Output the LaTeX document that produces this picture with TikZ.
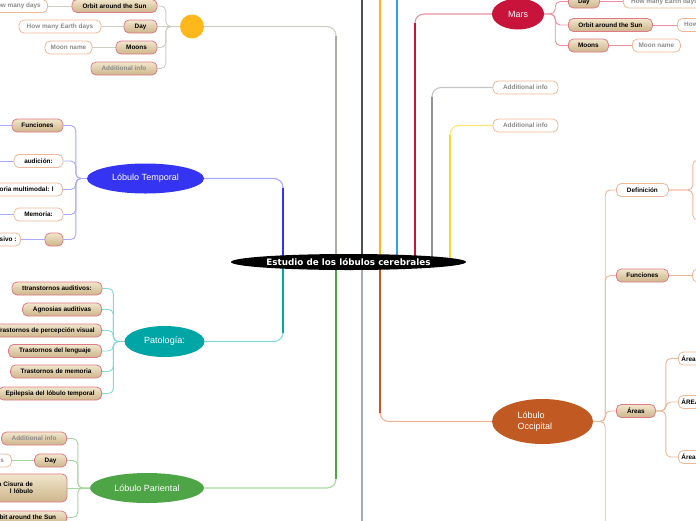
\documentclass[tikz,border=0pt]{standalone}
\usepackage{fontspec}
\setmainfont{Liberation Sans}
\newfontfamily\rootfont{DejaVu Sans}
\usetikzlibrary{calc,shapes.geometric}

\definecolor{tanTop}{HTML}{F1E6CC}
\definecolor{tanBot}{HTML}{CDB58A}
\definecolor{tanEdge}{HTML}{E07A88}
\definecolor{noteEdge}{HTML}{EDB898}
\definecolor{greyText}{HTML}{8C8C8C}
\definecolor{sunFill}{HTML}{FFB81C}
\definecolor{sunTrunk}{HTML}{A9AE9F}
\definecolor{sunSoft}{HTML}{CCCEC4}
\definecolor{tmp}{HTML}{3434F2}
\definecolor{tmpSoft}{HTML}{A8A8FF}
\definecolor{pat}{HTML}{00A6A6}
\definecolor{patSoft}{HTML}{88D8D8}
\definecolor{par}{HTML}{4DA546}
\definecolor{parSoft}{HTML}{A8D8A2}
\definecolor{mars}{HTML}{C8133A}
\definecolor{marsSoft}{HTML}{E8909E}
\definecolor{occ}{HTML}{C05A22}
\definecolor{occSoft}{HTML}{EDB598}
\definecolor{darkTrunk}{HTML}{4B5052}
\definecolor{darkLow}{HTML}{A4ACB5}
\definecolor{orTrunk}{HTML}{FFB31A}
\definecolor{blTrunk}{HTML}{2CA2EE}
\definecolor{grTrunk}{HTML}{909498}
\definecolor{grSoft}{HTML}{C4C4C4}
\definecolor{yeTrunk}{HTML}{FFD62A}
\definecolor{yeSoft}{HTML}{FFE678}

\pgfdeclarelayer{back}
\pgfsetlayers{back,main}

\tikzset{
  box/.style={line width=0.8pt, rounded corners=5pt, minimum height=13pt,
    inner xsep=2pt, inner ysep=0pt, font=\fontsize{6.4}{7.4}\selectfont\bfseries},
  tanbox/.style={box, draw=tanEdge, top color=tanTop, bottom color=tanBot},
  notebox/.style={box, draw=noteEdge, fill=white},
  greytxt/.style={text=greyText},
  lobe/.style={ellipse, inner sep=0pt, text=white, font=\fontsize{9}{11}\selectfont},
  rootnode/.style={ellipse, fill=black, text=white, inner sep=0pt,
    minimum width=235pt, minimum height=16pt,
    font=\rootfont\bfseries\fontsize{8.8}{10}\selectfont},
  trunk/.style={line width=1.8pt, draw=#1},
  twig/.style={line width=0.9pt, draw=#1, rounded corners=5pt},
}

\begin{document}
\begin{tikzpicture}[x=1pt,y=-1pt,line cap=round]
  \useasboundingbox (0,0) rectangle (696,520);

  % --- centro ---
  \node[rootnode] (root) at (348.5,262) {Estudio de los lóbulos cerebrales};
  \coordinate (jTmp) at (283,262);
  \coordinate (jSun) at (336,262);
  \coordinate (jDark) at (362,262);
  \coordinate (jOr) at (380,262);
  \coordinate (jBl) at (397,262);
  \coordinate (jMars) at (415,262);
  \coordinate (jInfoA) at (432,262);
  \coordinate (jInfoB) at (450,262);
  \coordinate (darkTop) at (362,-3);
  \coordinate (darkBot) at (362,523);
  \coordinate (orTop) at (380,-3);
  \coordinate (blTop) at (397,-3);

  % --- circulo amarillo ---
  \node[circle, fill=sunFill, minimum size=24pt, inner sep=0pt] (sun) at (192,26.5) {};
  \node[tanbox, minimum width=85pt] (orbitA) at (114.5,6) {Orbit around the Sun};
  \node[notebox, greytxt, minimum width=62pt, anchor=east] (daysA) at (48,6) {How many days};
  \node[tanbox, minimum width=33pt] (dayA) at (140.5,26.5) {Day};
  \node[notebox, greytxt, minimum width=82pt] (earthA) at (60,26.5) {How many Earth days};
  \node[tanbox, minimum width=41pt] (moonsA) at (136.5,47.5) {Moons};
  \node[notebox, greytxt, minimum width=47pt] (moonA) at (68.5,47.5) {Moon name};
  \node[tanbox, greytxt, minimum width=66pt] (infoA) at (124,68.5) {Additional info};

  % --- Lobulo Temporal ---
  \node[lobe, fill=tmp, minimum width=117pt, minimum height=30pt] (temporal) at (145.5,178.5) {Lóbulo Temporal};
  \node[tanbox, minimum width=51pt] (funcT) at (37.5,125.5) {Funciones};
  \node[notebox, minimum width=49pt] (audT) at (38.5,161) {audición:};
  \node[notebox, minimum width=72pt, anchor=east] (multT) at (63,189.5) {oria multimodal: l};
  \node[notebox, minimum width=49pt] (memT) at (38.5,214.5) {Memoria:};
  \node[tanbox, minimum width=18pt] (blankT) at (54,239.5) {};
  \node[notebox, minimum width=25pt, anchor=east] (sivoT) at (21,239.5) {sivo :};

  % --- Patologia ---
  \node[lobe, fill=pat, minimum width=80pt, minimum height=31pt] (patol) at (164.5,341.5) {Patología:};
  \node[tanbox, minimum width=90pt] (pA) at (57,288.5) {ttranstornos auditivos:};
  \node[tanbox, minimum width=79pt, anchor=east] (pB) at (102,309.5) {Agnosias auditivas};
  \node[tanbox, minimum width=112pt, anchor=east] (pC) at (102,330.5) {Trastornos de percepción visual};
  \node[tanbox, minimum width=93pt, anchor=east] (pD) at (102,351) {Trastornos del lenguaje};
  \node[tanbox, minimum width=91pt, anchor=east] (pE) at (102,371.5) {Trastornos de memoria};
  \node[tanbox, minimum width=103pt, anchor=east] (pF) at (102,393.5) {Epilepsia del lóbulo temporal};

  % --- Lobulo Pariental ---
  \node[lobe, fill=par, minimum width=114pt, minimum height=30pt] (parient) at (147,488) {Lóbulo Pariental};
  \node[tanbox, greytxt, minimum width=65pt, anchor=east] (infoP) at (67,438.5) {Additional info};
  \node[tanbox, minimum width=32pt, anchor=east] (dayP) at (67,460.5) {Day};
  \node[notebox, greytxt, minimum width=82pt, anchor=east] (earthP) at (12,460.5) {How many Earth days};
  \node[tanbox, minimum height=28pt, minimum width=148pt, text width=80pt, align=right] (cisP) at (-7,488) {a Cisura de\\l lóbulo};
  \node[tanbox, minimum width=85pt, anchor=east] (orbitP) at (67,517.5) {Orbit around the Sun};

  % --- Mars ---
  \node[lobe, fill=mars, minimum width=52pt, minimum height=31pt] (mars) at (518,14) {Mars};
  \node[tanbox, minimum width=31pt, anchor=west] (dayM) at (568,1.5) {Day};
  \node[notebox, greytxt, minimum width=82pt, anchor=west] (earthM) at (623,1.5) {How many Earth days};
  \node[tanbox, minimum width=84pt, anchor=west] (orbitM) at (568,25) {Orbit around the Sun};
  \node[notebox, greytxt, minimum width=62pt, anchor=west] (daysM) at (677,25) {How many days};
  \node[tanbox, minimum width=40pt, anchor=west] (moonsM) at (568,45.5) {Moons};
  \node[notebox, greytxt, minimum width=48pt, anchor=west] (moonM) at (632,45.5) {Moon name};

  % --- additional info (derecha) ---
  \node[notebox, greytxt, minimum width=65pt] (infoR1) at (525.5,87.5) {Additional info};
  \node[notebox, greytxt, minimum width=65pt] (infoR2) at (525.5,125.5) {Additional info};

  % --- Lobulo Occipital ---
  \node[lobe, fill=occ, minimum width=101pt, minimum height=45pt, text width=50pt, align=left] (occip) at (542.5,421.5) {Lóbulo\\Occipital};
  \node[notebox, minimum width=52pt, anchor=west] (defO) at (616,190) {Definición};
  \node[tanbox, minimum width=52pt, anchor=west] (funcO) at (616,275.5) {Funciones};
  \node[notebox, minimum width=30pt, anchor=west] (funcOn) at (692,275.5) {};
  \node[tanbox, minimum width=39pt, anchor=west] (areasO) at (616,411) {Áreas};
  \node[notebox, text width=40pt, align=left, inner xsep=3pt, anchor=west] (areaA) at (678,358.5) {Área};
  \node[notebox, text width=40pt, align=left, inner xsep=3pt, anchor=west] (areaB) at (678,402) {ÁREA};
  \node[notebox, text width=40pt, align=left, inner xsep=3pt, anchor=west] (areaC) at (678,457) {Área};
  \coordinate (defUp) at (712,160);
  \coordinate (defDn) at (712,220);
  \coordinate (occMore) at (616,540);

  \begin{pgfonlayer}{back}
    % troncos
    \draw[trunk=darkTrunk] (jDark) -- (darkTop);
    \draw[trunk=darkLow] (jDark) -- (darkBot);
    \draw[trunk=orTrunk] (jOr) -- (orTop);
    \draw[trunk=blTrunk] (jBl) -- (blTop);
    \draw[twig=sunSoft, line width=1.1pt, rounded corners=9pt] (sun.east) -| (jSun);
    \draw[trunk=sunTrunk, shorten >=9pt] (jSun) -- (jSun |- sun.east);
    \draw[twig=tmpSoft, line width=1.1pt, rounded corners=9pt] (temporal.east) -| (jTmp);
    \draw[trunk=tmp, shorten >=9pt] (jTmp) -- (jTmp |- temporal.east);
    \draw[twig=patSoft, line width=1.1pt, rounded corners=9pt] (patol.east) -| (jTmp);
    \draw[trunk=pat, shorten >=9pt] (jTmp) -- (jTmp |- patol.east);
    \draw[twig=parSoft, line width=1.1pt, rounded corners=9pt] (parient.east) -| (jSun);
    \draw[trunk=par, shorten >=9pt] (jSun) -- (jSun |- parient.east);
    \draw[twig=marsSoft, line width=1.1pt, rounded corners=9pt] (mars.west) -| (jMars);
    \draw[trunk=mars, shorten >=9pt] (jMars) -- (jMars |- mars.west);
    \draw[twig=grSoft, line width=1.1pt, rounded corners=9pt] (infoR1.west) -| (jInfoA);
    \draw[trunk=grTrunk, shorten >=9pt] (jInfoA) -- (jInfoA |- infoR1.west);
    \draw[twig=yeSoft, line width=1.1pt, rounded corners=9pt] (infoR2.west) -| (jInfoB);
    \draw[trunk=yeTrunk, shorten >=9pt] (jInfoB) -- (jInfoB |- infoR2.west);
    \draw[twig=occSoft, line width=1.1pt, rounded corners=9pt] (occip.west) -| (jOr);
    \draw[trunk=occ, shorten >=9pt] (jOr) -- (jOr |- occip.west);

    % ramas
    \foreach \n in {orbitA,moonsA,infoA}
      \draw[twig=sunSoft] (sun.west) -- ++(-14,0) |- (\n.east);
    \draw[twig=sunSoft] (sun.west) -- (dayA.east);
    \draw[twig=sunSoft] (orbitA.west) -- (daysA.east);
    \draw[twig=sunSoft] (dayA.west) -- (earthA.east);
    \draw[twig=sunSoft] (moonsA.west) -- (moonA.east);

    \foreach \n in {funcT,audT,multT,memT,blankT}
      \draw[twig=tmpSoft] (temporal.west) -- ++(-11,0) |- (\n.east);
    \foreach \n in {funcT,audT,memT}
      \draw[twig=tmpSoft] (\n.west) -- ++(-20,0);
    \draw[twig=tmpSoft] (blankT.west) -- (sivoT.east);

    \foreach \n in {pA,pB,pC,pD,pE,pF}
      \draw[twig=patSoft] (patol.west) -- ++(-11,0) |- (\n.east);

    \foreach \n in {infoP,dayP,orbitP}
      \draw[twig=parSoft] (parient.west) -- ++(-12,0) |- (\n.east);
    \draw[twig=parSoft] (parient.west) -- (cisP.east);
    \draw[twig=parSoft] (dayP.west) -- (earthP.east);

    \foreach \n in {dayM,orbitM,moonsM}
      \draw[twig=marsSoft] (mars.east) -- ++(11,0) |- (\n.west);
    \draw[twig=marsSoft] (dayM.east) -- (earthM.west);
    \draw[twig=marsSoft] (orbitM.east) -- (daysM.west);
    \draw[twig=marsSoft] (moonsM.east) -- (moonM.west);

    \foreach \n in {defO,funcO,areasO}
      \draw[twig=occSoft] (occip.east) -- ++(12,0) |- (\n.west);
    \draw[twig=occSoft] (occip.east) -- ++(12,0) |- (occMore);
    \foreach \p in {defUp,defDn}
      \draw[twig=occSoft] (defO.east) -- ++(24,0) |- (\p);
    \draw[twig=occSoft] (funcO.east) -- (funcOn.west);
    \foreach \n in {areaA,areaB,areaC}
      \draw[twig=occSoft] (areasO.east) -- ++(10,0) |- (\n.west);
  \end{pgfonlayer}
\end{tikzpicture}
\end{document}
